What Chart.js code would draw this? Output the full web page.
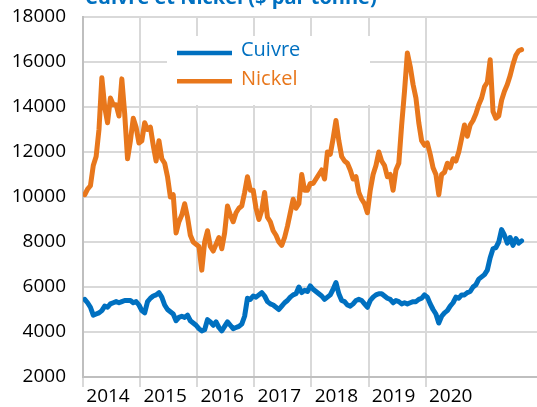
<!DOCTYPE html>
<html>
<head>
<meta charset="utf-8">
<script src="https://cdn.jsdelivr.net/npm/chart.js@4.4.1/dist/chart.umd.min.js"></script>
<style>
  html, body { margin: 0; padding: 0; background: #ffffff; }
  #wrap { position: relative; width: 537px; height: 407px; }
</style>
</head>
<body>
<div id="wrap"><canvas id="metals-chart"></canvas></div>
<script>
// Prix du cuivre et du nickel, un point toutes les ~2,6 semaines
const START_YEAR = 2014.03;
const STEP = 0.05;

const years = ['2014', '2015', '2016', '2017', '2018', '2019', '2020'];

const copper = [
    5450, 5300, 5100, 4750, 4800, 4850, 4950, 5150, 5100, 5250, 5300, 5350, 5300, 5350, 5400, 5400, 5400, 5300, 5350, 5200,
    4950, 4850, 5350, 5500, 5600, 5650, 5750, 5550, 5200, 5000, 4900, 4800, 4500, 4650, 4700, 4650, 4750, 4500, 4400, 4300,
    4150, 4050, 4100, 4550, 4450, 4300, 4450, 4200, 4050, 4250, 4450, 4300, 4150, 4200, 4250, 4350, 4700, 5500, 5450, 5600,
    5550, 5650, 5750, 5600, 5350, 5250, 5200, 5100, 5000, 5150, 5300, 5400, 5550, 5650, 5700, 6000, 5750, 5850, 5800, 6050,
    5900, 5800, 5700, 5600, 5450, 5550, 5650, 5900, 6200, 5700, 5400, 5350, 5200, 5150, 5250, 5400, 5450, 5400, 5250, 5100,
    5400, 5550, 5650, 5700, 5700, 5600, 5500, 5450, 5300, 5400, 5350, 5250, 5300, 5250, 5300, 5350, 5350, 5450, 5500, 5650,
    5550, 5250, 5000, 4800, 4400, 4700, 4850, 4950, 5150, 5300, 5550, 5500, 5650, 5650, 5750, 5800, 6000, 6100, 6350, 6450,
    6550, 6750, 7300, 7700, 7750, 8000, 8550, 8300, 7950, 8200, 7850, 8150, 7950, 8050
];

const nickel = [
    10100, 10350, 10500, 11400, 11800, 13000, 15300, 14000, 13300, 14400, 14100, 14100, 13600, 15250, 13700, 11700, 12500, 13500, 13100, 12400,
    12500, 13300, 13000, 13100, 12300, 11600, 12500, 11700, 11500, 10900, 10000, 10100, 8400, 8900, 9200, 9700, 9100, 8300, 8000, 7900,
    7800, 6750, 8000, 8500, 7800, 7600, 7900, 8200, 7700, 8400, 9600, 9200, 8900, 9300, 9500, 9600, 10200, 10900, 10300, 10300,
    9500, 9000, 9400, 10200, 9100, 8900, 8500, 8300, 8000, 7850, 8200, 8700, 9300, 9900, 9500, 9700, 11000, 10300, 10300, 10600,
    10600, 10800, 11000, 11200, 10800, 12000, 11900, 12600, 13400, 12500, 11800, 11600, 11500, 11200, 10800, 10900, 10200, 9900, 9700, 9300,
    10300, 11000, 11400, 12000, 11600, 11400, 10900, 11000, 10300, 11200, 11500, 13200, 14700, 16400, 15800, 15000, 14400, 13300, 12500, 12300,
    12400, 11900, 11300, 11000, 10100, 11000, 11100, 11500, 11300, 11700, 11600, 12000, 12600, 13200, 12700, 13200, 13400, 13700, 14100, 14400,
    14900, 15100, 16100, 13800, 13500, 13600, 14300, 14700, 15000, 15400, 15900, 16300, 16500, 16550
];

const BLUE = '#0070C0';
const ORANGE = '#E8771C';
const GRID = '#d9d9d9';
const AXIS = '#bfbfbf';

function toPoints(values) {
    return values.map(function(v, i) {
        return { x: START_YEAR + i * STEP, y: v };
    });
}

Chart.defaults.font.family = "'Open Sans', sans-serif";

// Titre en haut, en grande partie hors du canevas
const titlePlugin = {
    id: 'topTitle',
    afterDraw(chart) {
        const ctx = chart.ctx;
        ctx.save();
        ctx.font = "bold 20px 'Open Sans', sans-serif";
        ctx.fillStyle = BLUE;
        ctx.textAlign = 'left';
        ctx.textBaseline = 'alphabetic';
        ctx.fillText('Cuivre et Nickel ($ par tonne)', 85, 3.5);
        ctx.restore();
    }
};

// Légende dans un cadre blanc au-dessus de la grille
const boxLegend = {
    id: 'boxLegend',
    beforeDatasetsDraw(chart) {
        const ctx = chart.ctx;
        ctx.save();
        ctx.fillStyle = '#ffffff';
        ctx.fillRect(167, 36, 203, 69);
        ctx.font = "20px 'Open Sans', sans-serif";
        ctx.textAlign = 'left';
        ctx.textBaseline = 'middle';
        chart.data.datasets.forEach(function(ds, i) {
            const y = 53 + i * 28.3;
            ctx.strokeStyle = ds.borderColor;
            ctx.lineWidth = 4.5;
            ctx.beginPath();
            ctx.moveTo(177, y);
            ctx.lineTo(232, y);
            ctx.stroke();
            ctx.fillStyle = ds.borderColor;
            ctx.fillText(ds.label, 241, y - 2.5);
        });
        ctx.restore();
    }
};

new Chart(document.getElementById('metals-chart'), {
    type: 'line',
    data: {
        datasets: [{
            label: 'Cuivre',
            data: toPoints(copper),
            borderColor: BLUE,
            borderWidth: 5,
            pointRadius: 0,
            borderJoinStyle: 'round',
            borderCapStyle: 'round'
        }, {
            label: 'Nickel',
            data: toPoints(nickel),
            borderColor: ORANGE,
            borderWidth: 5,
            pointRadius: 0,
            borderJoinStyle: 'round',
            borderCapStyle: 'round'
        }]
    },
    options: {
        responsive: true,
        maintainAspectRatio: false,
        animation: false,
        devicePixelRatio: 1,
        layout: {
            padding: { left: 11, right: 0, top: 17, bottom: 1 }
        },
        plugins: {
            legend: { display: false },
            tooltip: { enabled: false }
        },
        scales: {
            x: {
                type: 'linear',
                min: 2014,
                max: 2021.95,
                afterBuildTicks: function(scale) {
                    scale.ticks = scale.ticks.filter(function(t) {
                        return Number.isInteger(t.value);
                    });
                },
                ticks: {
                    stepSize: 1,
                    autoSkip: false,
                    maxRotation: 0,
                    labelOffset: 25,
                    padding: 0,
                    color: '#000000',
                    font: { size: 19, lineHeight: 1 },
                    callback: function(value) {
                        const s = String(value);
                        return years.includes(s) ? s : '';
                    }
                },
                grid: {
                    color: GRID,
                    lineWidth: 2,
                    tickLength: 10,
                    drawTicks: true
                },
                border: { color: AXIS, width: 2 }
            },
            y: {
                min: 2000,
                max: 18000,
                // largeur fixe, sans marge au-dessus de la première graduation
                afterFit: function(scale) {
                    scale.width = 72;
                    scale.paddingTop = 0;
                    scale.paddingBottom = 0;
                },
                ticks: {
                    stepSize: 2000,
                    padding: 17,
                    color: '#000000',
                    font: { size: 19 },
                    callback: function(value) {
                        return String(value);
                    }
                },
                grid: {
                    color: GRID,
                    lineWidth: 2,
                    drawTicks: false
                },
                border: { color: AXIS, width: 2 }
            }
        }
    },
    plugins: [boxLegend, titlePlugin]
});
</script>
</body>
</html>
